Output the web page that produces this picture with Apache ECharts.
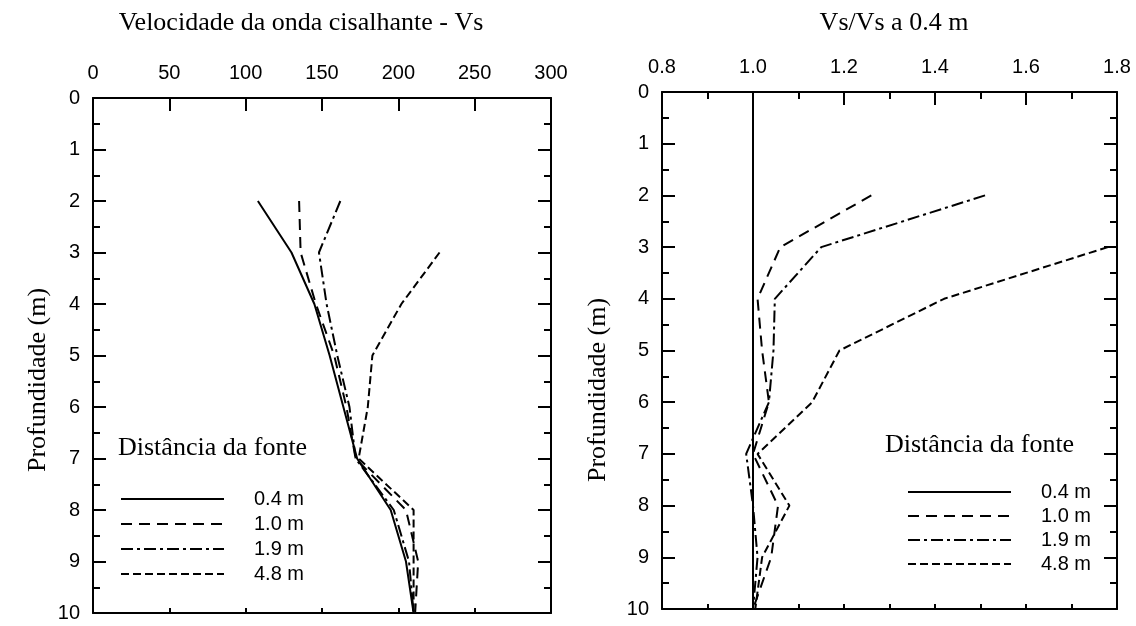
<!DOCTYPE html>
<html>
<head>
<meta charset="utf-8">
<script src="https://cdn.jsdelivr.net/npm/echarts@6/dist/echarts.min.js"></script>
<style>
html,body{margin:0;padding:0;background:#fff;}
#chart{width:1136px;height:626px;}
</style>
</head>
<body>
<div id="chart"></div>
<script>
// ---- Data ----
const seriesNames = ['0.4 m', '1.0 m', '1.9 m', '4.8 m'];

// Left plot: shear wave velocity Vs vs depth
const depthVs = [2, 3, 4, 5, 6, 7, 8, 9, 10];
const vs04 = [108, 130, 145, 155, 164, 173, 195, 205, 210];
const vs10 = [135, 136, 146, 158, 166, 172, 205, 213, 211];
const vs19 = [162, 148, 153, 160, 168, 172, 197, 207, 210];
const depthVs48 = [3, 4, 5, 6, 7, 8, 9, 10];
const vs48 = [227, 202, 183, 180, 174, 210, 210, 210];

// Right plot: Vs / Vs at 0.4 m vs depth
const depthR04 = [0, 10];
const r04 = [1.0, 1.0];
const depthR = [2, 3, 4, 5, 6, 7, 8, 9, 10];
const r10 = [1.26, 1.06, 1.01, 1.02, 1.035, 1.0, 1.055, 1.04, 1.0];
const r19 = [1.51, 1.15, 1.048, 1.045, 1.035, 0.985, 1.0, 1.01, 1.0];
const depthR48 = [3, 4, 5, 6, 7, 8, 9, 10];
const r48 = [1.78, 1.42, 1.19, 1.13, 1.01, 1.08, 1.02, 1.005];

// Axis ticks
const vsMin = 0, vsMax = 300, vsStep = 50;
const rMin = 0.8, rMax = 1.8, rStep = 0.2;
const depthMin = 0, depthMax = 10, depthStep = 1;

const leftTitle = 'Velocidade da onda cisalhante - Vs';
const rightTitle = 'Vs/Vs a 0.4 m';
const depthTitle = 'Profundidade (m)';
const legendTitle = 'Distância da fonte';

// ---- Styles ----
const SANS = 'Liberation Sans, Arial, sans-serif';
const SERIF = 'Liberation Serif, Times New Roman, serif';
const BLACK = '#000';
const dashTypes = ['solid', [11, 7], [12, 4, 3, 4], [8, 4]];

function pairs(xs, ds) { return ds.map((d, i) => [xs[i], d]); }

const lineBase = { color: BLACK, width: 2 };
const tickStyle = { color: BLACK, width: 2 };
const axisLineStyle = { show: true, onZero: false, lineStyle: { color: BLACK, width: 2 } };
const labelStyle = { color: BLACK, fontSize: 20, fontFamily: SANS };

function xTop(grid, min, max, interval, minor, fmt) {
  return {
    type: 'value', gridIndex: grid, position: 'top', min, max, interval,
    axisLine: axisLineStyle,
    axisTick: { show: true, inside: true, length: 13, lineStyle: tickStyle },
    minorTick: { show: minor, splitNumber: 2, length: 7, lineStyle: tickStyle },
    axisLabel: Object.assign({ margin: 15, formatter: fmt }, labelStyle),
    splitLine: { show: false }, minorSplitLine: { show: false }
  };
}
function xBottom(grid, min, max, interval) {
  return {
    type: 'value', gridIndex: grid, position: 'bottom', min, max, interval,
    axisLine: axisLineStyle,
    axisTick: { show: true, inside: true, length: 5, lineStyle: tickStyle },
    axisLabel: { show: false },
    splitLine: { show: false }
  };
}
function yAx(grid, pos, labels) {
  return {
    type: 'value', gridIndex: grid, position: pos, inverse: true,
    min: depthMin, max: depthMax, interval: depthStep,
    axisLine: axisLineStyle,
    axisTick: { show: true, inside: true, length: 13, lineStyle: tickStyle },
    minorTick: { show: true, splitNumber: 2, length: 7, lineStyle: tickStyle },
    axisLabel: Object.assign({ show: labels, margin: 13 }, labelStyle),
    splitLine: { show: false }, minorSplitLine: { show: false }
  };
}
function mkSeries(idx, xs, ds, axisIdx) {
  return {
    name: seriesNames[idx], type: 'line', xAxisIndex: axisIdx, yAxisIndex: axisIdx,
    data: pairs(xs, ds), symbol: 'none', showSymbol: false, smooth: false,
    lineStyle: Object.assign({ type: dashTypes[idx] }, lineBase),
    itemStyle: { color: BLACK }, silent: true, animation: false
  };
}
function mkLegend(left, top, gap) {
  return {
    left, top, orient: 'vertical', itemWidth: 103, itemHeight: 16, itemGap: gap,
    data: seriesNames, selectedMode: false,
    itemStyle: { opacity: 0 },
    textStyle: { color: BLACK, fontSize: 20, fontFamily: SANS, padding: [0, 0, 0, 25] }
  };
}
function txt(text, x, y, size, align, rot) {
  return {
    type: 'text', x, y, rotation: rot || 0,
    style: { text, fill: BLACK, font: size + 'px ' + SERIF, textAlign: align, textVerticalAlign: 'middle' }
  };
}

const chart = echarts.init(document.getElementById('chart'), null, { renderer: 'canvas' });
chart.setOption({
  backgroundColor: '#fff',
  animation: false,
  grid: [
    { left: 93, top: 98, width: 458, height: 515 },
    { left: 662, top: 92, width: 455, height: 517 }
  ],
  xAxis: [
    xTop(0, vsMin, vsMax, vsStep, false, null),
    xBottom(0, vsMin, vsMax, vsStep),
    xTop(1, rMin, rMax, rStep, true, v => v.toFixed(1)),
    xBottom(1, rMin, rMax, 0.1)
  ],
  yAxis: [
    yAx(0, 'left', true),
    yAx(0, 'right', false),
    yAx(1, 'left', true),
    yAx(1, 'right', false)
  ],
  legend: [mkLegend(115, 484, 5), mkLegend(902, 477, 4)],
  series: [
    mkSeries(0, vs04, depthVs, 0),
    mkSeries(1, vs10, depthVs, 0),
    mkSeries(2, vs19, depthVs, 0),
    mkSeries(3, vs48, depthVs48, 0),
    mkSeries(0, r04, depthR04, 2),
    mkSeries(1, r10, depthR, 2),
    mkSeries(2, r19, depthR, 2),
    mkSeries(3, r48, depthR48, 2)
  ],
  graphic: [
    txt(leftTitle, 301, 23, 26, 'center'),
    txt(rightTitle, 894, 23, 26, 'center'),
    txt(depthTitle, 38, 380, 26, 'center', Math.PI / 2),
    txt(depthTitle, 598, 390, 26, 'center', Math.PI / 2),
    txt(legendTitle, 118, 448, 26, 'left'),
    txt(legendTitle, 885, 445, 26, 'left')
  ]
});
</script>
</body>
</html>
